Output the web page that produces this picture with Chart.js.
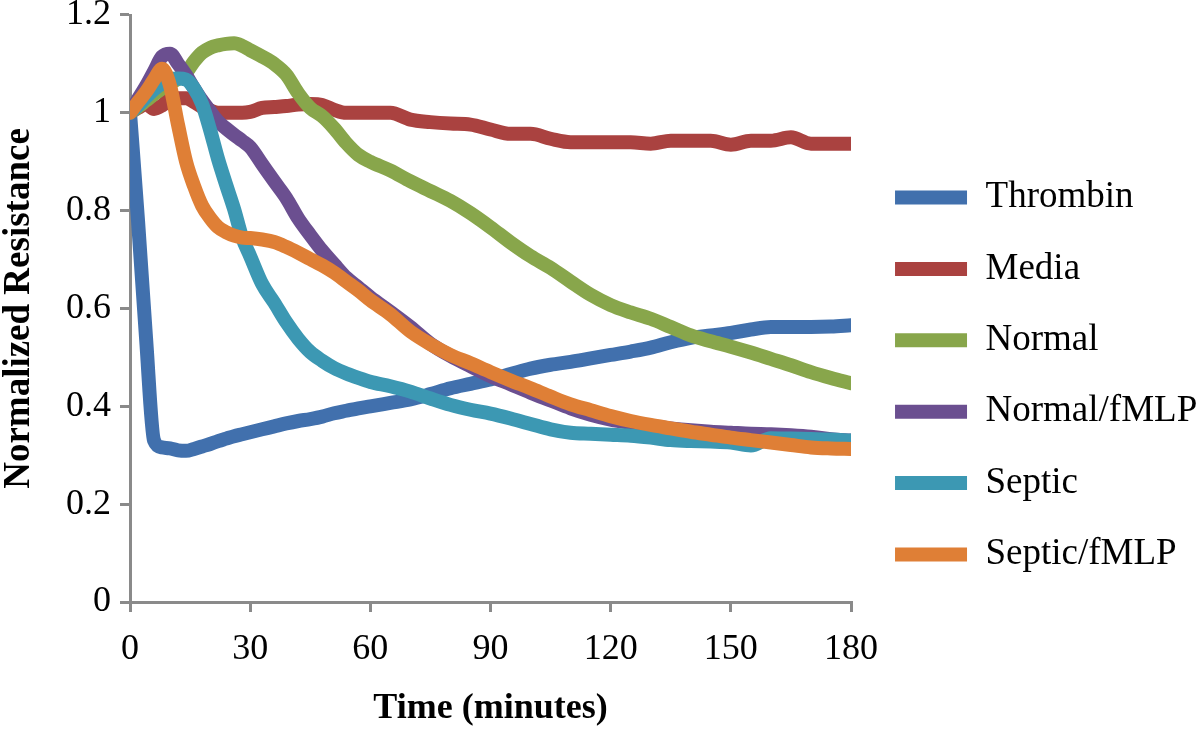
<!DOCTYPE html>
<html>
<head>
<meta charset="utf-8">
<script src="https://cdn.jsdelivr.net/npm/chart.js@4.4.1/dist/chart.umd.min.js"></script>
<style>
  html, body { margin: 0; padding: 0; background: #ffffff; }
  canvas { display: block; }
</style>
</head>
<body>
<canvas id="c" width="1200" height="729"></canvas>
<script>
// ---- data ----
const times = [0,2,4,6,8,10,12,14,16,18,20,22,24,26,28,30,33,36,39,42,45,48,51,54,57,
               60,65,70,75,80,85,90,95,100,105,110,115,120,125,130,135,140,145,150,155,160,165,170,175,180];

const seriesNames = ['Thrombin', 'Media', 'Normal', 'Normal/fMLP', 'Septic', 'Septic/fMLP'];

const thrombin = [1.00,0.78,0.54,0.33,0.316,0.314,0.31,0.309,0.313,0.318,0.323,0.329,0.334,0.339,0.343,0.347,
                  0.353,0.359,0.365,0.37,0.374,0.379,0.386,0.391,0.396,
                  0.40,0.407,0.414,0.425,0.437,0.446,0.455,0.466,0.477,0.485,0.491,0.498,0.505,0.512,0.52,
                  0.531,0.54,0.545,0.55,0.557,0.562,0.562,0.562,0.563,0.566];

const media = [1.00,1.01,1.018,1.008,1.015,1.028,1.03,1.03,1.022,1.012,1.005,1.0,1.0,1.0,1.0,1.002,
               1.01,1.012,1.014,1.017,1.018,1.016,1.006,1.0,1.0,
               1.0,1.0,0.986,0.981,0.978,0.976,0.966,0.957,0.957,0.947,0.94,0.94,0.94,0.94,0.937,
               0.943,0.943,0.943,0.935,0.943,0.943,0.95,0.937,0.937,0.937];

const normal = [1.00,1.012,1.025,1.038,1.05,1.06,1.07,1.082,1.105,1.123,1.133,1.138,1.141,1.142,1.137,1.128,
                1.115,1.10,1.078,1.04,1.01,0.993,0.968,0.938,0.914,
                0.90,0.882,0.86,0.84,0.82,0.795,0.766,0.735,0.707,0.683,0.655,0.628,0.607,0.592,0.579,
                0.562,0.545,0.533,0.522,0.51,0.497,0.484,0.47,0.458,0.447];

const normalFmlp = [1.00,1.028,1.055,1.085,1.115,1.121,1.10,1.077,1.05,1.025,1.003,0.982,0.968,0.955,0.943,0.93,
                    0.895,0.86,0.826,0.784,0.75,0.718,0.69,0.663,0.643,
                    0.623,0.593,0.562,0.528,0.503,0.482,0.462,0.445,0.428,0.412,0.396,0.383,0.373,0.366,0.36,
                    0.355,0.351,0.348,0.346,0.344,0.343,0.341,0.338,0.333,0.33];

const septic = [1.00,1.015,1.032,1.048,1.06,1.068,1.07,1.068,1.05,1.018,0.965,0.905,0.853,0.803,0.745,0.707,
                0.65,0.612,0.572,0.538,0.511,0.493,0.478,0.467,0.458,
                0.45,0.441,0.43,0.416,0.403,0.393,0.385,0.375,0.364,0.353,0.346,0.344,0.342,0.34,0.336,
                0.331,0.329,0.328,0.326,0.32,0.335,0.334,0.333,0.332,0.33];

const septicFmlp = [1.00,1.022,1.043,1.068,1.09,1.055,0.975,0.90,0.85,0.81,0.785,0.766,0.756,0.749,0.745,0.744,
                    0.741,0.736,0.726,0.714,0.701,0.688,0.673,0.655,0.637,
                    0.617,0.588,0.553,0.527,0.505,0.488,0.47,0.453,0.437,0.42,0.404,0.392,0.38,0.37,0.362,
                    0.355,0.348,0.342,0.336,0.331,0.326,0.321,0.316,0.314,0.313];

const seriesValues = [thrombin, media, normal, normalFmlp, septic, septicFmlp];
const seriesColors = ['#4170AD', '#AA4240', '#88A64B', '#6B4F90', '#3C98B3', '#DF7F36'];

const xTicks = [0, 30, 60, 90, 120, 150, 180];
const yTickLabels = ['0', '0.2', '0.4', '0.6', '0.8', '1', '1.2'];

const xTitle = 'Time (minutes)';
const yTitle = 'Normalized Resistance';

// ---- chart ----
const FONT = "'Liberation Serif', 'Times New Roman', Times, serif";
const AXIS_GRAY = '#8a8a8a';

const datasets = seriesNames.map((name, i) => ({
  label: name,
  data: times.map((t, k) => ({ x: t, y: seriesValues[i][k] })),
  borderColor: seriesColors[i],
  backgroundColor: seriesColors[i],
  borderWidth: 14,
  borderCapStyle: 'round',
  borderJoinStyle: 'round',
  pointRadius: 0,
  pointHoverRadius: 0,
  fill: false,
  cubicInterpolationMode: 'monotone',
  order: seriesNames.length - i   // later series drawn on top, like the original
}));

// move the legend box a little and let it use the full remaining width
const legendShift = {
  id: 'legendShift',
  afterLayout(chart) {
    const l = chart.legend;
    if (!l) return;
    l.left += 9.6;
    l.right = chart.width;
    l.width = l.right - l.left;
    l.top += 4; l.bottom += 4;
  }
};

new Chart(document.getElementById('c'), {
  type: 'line',
  data: { datasets },
  plugins: [legendShift],
  options: {
    responsive: false,
    animation: false,
    devicePixelRatio: 1,
    events: [],
    layout: { padding: { top: 15, right: 65.3, bottom: 0, left: 0 } },
    plugins: {
      tooltip: { enabled: false },
      title: { display: false },
      legend: {
        position: 'right',
        labels: {
          usePointStyle: true,
          pointStyle: 'line',
          pointStyleWidth: 72,
          padding: 34.4,
          color: '#000000',
          font: { family: FONT, size: 37 },
          sort: (a, b) => a.datasetIndex - b.datasetIndex
        }
      }
    },
    scales: {
      x: {
        type: 'linear',
        min: 0,
        max: 180,
        afterBuildTicks: (scale) => { scale.ticks = xTicks.map(v => ({ value: v })); },
        ticks: {
          color: '#000000',
          padding: 16.4,
          maxRotation: 0,
          font: { family: FONT, size: 36, lineHeight: 1.2 },
          callback: (v) => String(v)
        },
        grid: { drawOnChartArea: false, drawTicks: true, tickLength: 10, color: AXIS_GRAY, lineWidth: 3 },
        border: { display: true, color: AXIS_GRAY, width: 3 },
        title: {
          display: true,
          text: xTitle,
          color: '#000000',
          font: { family: FONT, size: 36, weight: 'bold', lineHeight: 1.1 },
          padding: { top: 1.4, bottom: 0 }
        }
      },
      y: {
        type: 'linear',
        min: 0,
        max: 1.2,
        afterBuildTicks: (scale) => { scale.ticks = yTickLabels.map((_, i) => ({ value: i * 0.2 })); },
        ticks: {
          color: '#000000',
          padding: 9,
          font: { family: FONT, size: 36, lineHeight: 0.3 },
          callback: (v) => yTickLabels[Math.round(v / 0.2)]
        },
        grid: { drawOnChartArea: false, drawTicks: true, tickLength: 10, color: AXIS_GRAY, lineWidth: 3 },
        border: { display: true, color: AXIS_GRAY, width: 3 },
        title: {
          display: true,
          text: yTitle,
          color: '#000000',
          font: { family: FONT, size: 37, weight: 'bold', lineHeight: 1.05 },
          padding: { top: 0, bottom: 18.15 }
        }
      }
    }
  }
});
</script>
</body>
</html>
